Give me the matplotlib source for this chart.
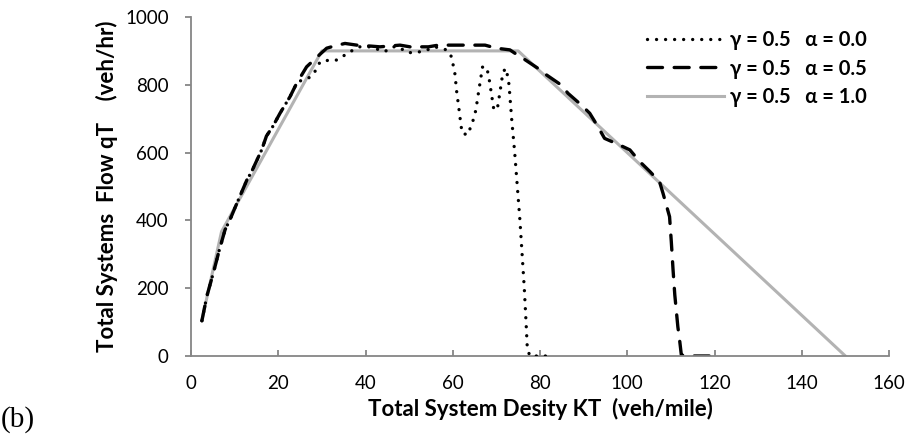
import matplotlib
matplotlib.use("Agg")
import matplotlib.pyplot as plt

plt.rcParams['font.family'] = ['Lato', 'DejaVu Sans']

# alpha = 0.0 (dotted)
k_a0 = [2.5, 3.6, 5.1, 6.5, 7.8, 8.9, 10.5, 12.8, 13.9, 16.2, 17.3, 18.7, 20.4, 22.7,
        24.2, 25.5, 27.3, 28.4, 29.6, 31.8, 33.4, 35.3, 37.2, 38.7, 41.0, 44.4, 46.3,
        47.5, 49.6, 51.5, 53.8, 55.9, 58.6, 59.7, 60.1, 60.5, 60.9, 61.4, 61.9, 62.2,
        63.5, 64.1, 64.8, 65.3, 65.9, 66.5, 66.8, 67.7, 68.2, 68.8, 69.4, 70.2, 70.5,
        71.1, 71.4, 72.0, 72.6, 72.9, 73.5, 74.2, 74.8, 75.4, 75.9, 76.4, 76.8, 77.1,
        77.7, 79.6, 81.5]
q_a0 = [104, 175, 244, 313, 372, 401, 450, 519, 544, 608, 649, 676, 716, 765,
        804, 815, 822, 839, 868, 873, 873, 888, 903, 912, 912, 898, 912,
        912, 895, 895, 901, 912, 903, 883, 858, 832, 780, 731, 679, 656,
        653, 676, 700, 726, 777, 826, 852, 853, 829, 779, 728, 727, 752,
        802, 828, 849, 826, 800, 700, 600, 500, 400, 300, 200, 100, 20,
        0, 0, 0]

# alpha = 0.5 (dashed)
k_a5 = [2.5, 3.6, 5.1, 6.5, 7.8, 8.9, 10.5, 12.8, 13.9, 16.2, 17.3, 18.7, 20.4, 22.7,
        24.2, 26.5, 29.4, 31.1, 33.0, 35.3, 38.0, 41.4, 43.3, 47.9, 50.2, 54.4, 56.7,
        62.4, 67.4, 70.0, 73.1, 75.4, 76.1, 79.6, 81.5, 84.9, 86.4, 89.5, 91.4, 93.3,
        94.8, 98.3, 100.6, 102.9, 105.2, 107.4, 108.2, 109.7, 110.1, 110.5, 110.9,
        111.6, 112.0, 112.4, 113.9, 118.9, 120.0]
q_a5 = [104, 175, 244, 313, 372, 401, 450, 519, 544, 608, 649, 676, 716, 765,
        804, 853, 888, 908, 915, 922, 917, 914, 912, 917, 912, 912, 917,
        917, 917, 908, 903, 883, 878, 848, 829, 799, 775, 740, 716, 676,
        642, 622, 608, 573, 544, 514, 480, 411, 337, 254, 180,
        86, 47, 3, 0, 0, 5]

# alpha = 1.0 (solid gray)
k_a1 = [2.5, 7.0, 30.0, 75.0, 150.0]
q_a1 = [106, 367, 900, 900, 0]

labels = ["\u03b3 = 0.5   \u03b1 = 0.0", "\u03b3 = 0.5   \u03b1 = 0.5", "\u03b3 = 0.5   \u03b1 = 1.0"]
x_ticks = [0, 20, 40, 60, 80, 100, 120, 140, 160]
y_ticks = [0, 200, 400, 600, 800, 1000]

fig = plt.figure(figsize=(9.06, 4.38), dpi=100)
ax = fig.add_axes([191/906, 1-356/438, (889-191)/906, (356-17)/438])

ax.plot(k_a1, q_a1, color='#b3b3b3', lw=2.2, label=labels[2], zorder=1)
ax.plot(k_a0, q_a0, color='black', lw=2.4, linestyle=(0, (0.01, 2.7)),
        dash_capstyle='round', label=labels[0], zorder=3)
ax.plot(k_a5, q_a5, color='black', lw=2.4, linestyle=(0, (4.5, 3.5)),
        dash_capstyle='round', label=labels[1], zorder=2)

ax.set_xlim(0, 160)
ax.set_ylim(0, 1000)
ax.set_xticks(x_ticks)
ax.set_yticks(y_ticks)
for s in ['top', 'right']:
    ax.spines[s].set_visible(False)
for s in ['left', 'bottom']:
    ax.spines[s].set_color('#868686')
    ax.spines[s].set_linewidth(1.3)
ax.tick_params(axis='x', direction='in', length=4.5, width=1.3, color='#868686',
               labelsize=13.5, pad=14)
ax.tick_params(axis='y', direction='out', length=4, width=1.3, color='#868686',
               labelsize=13.5, pad=12)

ax.set_xlabel("Total System Desity KT  (veh/mile)", fontsize=16, fontweight='bold', labelpad=4)
ax.set_ylabel("Total Systems  Flow qT    (veh/hr)", fontsize=16, fontweight='bold', labelpad=5)

h, l = ax.get_legend_handles_labels()
order = [1, 2, 0]
leg = fig.legend([h[i] for i in order], [l[i] for i in order], loc='upper left',
                 bbox_to_anchor=(637/906, 1-20/438), frameon=False, borderpad=0,
                 handlelength=3.8, handletextpad=0.3, labelspacing=0.42,
                 prop={'weight': 'bold', 'size': 14.5})

fig.text(1/906, 1-427/438, "(b)", fontsize=21, family=['Liberation Serif'])

fig.savefig("out.png", dpi=100)
